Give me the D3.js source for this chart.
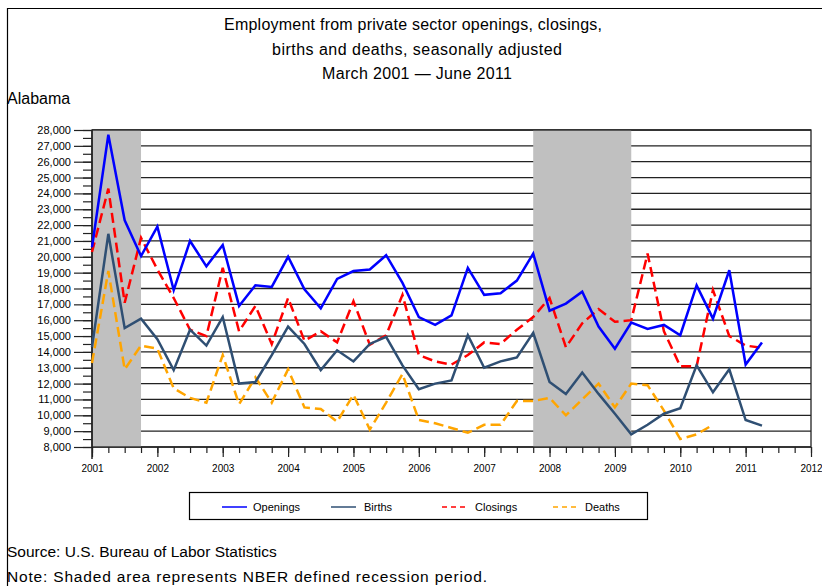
<!DOCTYPE html>
<html><head><meta charset="utf-8">
<script src="https://cdn.jsdelivr.net/npm/d3@7/dist/d3.min.js"></script>
<style>
body{margin:0;background:#fff;}
svg{display:block;font-family:"Liberation Sans",Arial,sans-serif;}
</style>
</head><body>
<svg id="c" width="822" height="586"></svg>
<script>
// ---- data ----
const periods = ["2001Q1","2001Q2","2001Q3","2001Q4","2002Q1","2002Q2","2002Q3","2002Q4",
"2003Q1","2003Q2","2003Q3","2003Q4","2004Q1","2004Q2","2004Q3","2004Q4",
"2005Q1","2005Q2","2005Q3","2005Q4","2006Q1","2006Q2","2006Q3","2006Q4",
"2007Q1","2007Q2","2007Q3","2007Q4","2008Q1","2008Q2","2008Q3","2008Q4",
"2009Q1","2009Q2","2009Q3","2009Q4","2010Q1","2010Q2","2010Q3","2010Q4",
"2011Q1","2011Q2"];
const openings = [20600,27700,22300,20050,21900,17900,21000,19400,20750,16900,18200,18100,
20000,17950,16750,18600,19100,19200,20100,18350,16200,15700,16300,19300,
17600,17700,18500,20200,16600,17050,17800,15600,14200,15850,15450,15700,
15050,18200,16100,19150,13200,14600];
const births = [14300,21450,15500,16100,14800,12850,15400,14400,16200,12000,12100,13800,
15600,14500,12850,14100,13400,14500,14950,13150,11650,12000,12200,15050,
13000,13400,13650,15200,12100,11350,12700,11350,10100,8800,9400,10100,
10450,13150,11450,12900,9700,9350];
const closings = [20300,24300,17100,21200,19200,17400,15400,15000,19300,15300,16900,14500,
17400,14700,15300,14600,17200,14450,15050,17600,13800,13400,13200,13800,
14600,14500,15400,16200,17400,14300,15800,16700,15900,16000,20200,15300,
13100,13100,17900,15000,14400,14250];
const deaths = [13300,19100,12900,14400,14200,11700,11100,10800,13800,10700,12400,10800,
12900,10500,10400,9600,11300,9100,10800,12600,9700,9500,9200,8900,
9400,9400,10900,10900,11100,10000,11000,12000,10500,12000,11900,10300,
8500,8800,9400];
const yearLabels = ["2001","2002","2003","2004","2005","2006","2007","2008","2009","2010","2011","2012"];
const yTickValues = [8000,9000,10000,11000,12000,13000,14000,15000,16000,17000,18000,
19000,20000,21000,22000,23000,24000,25000,26000,27000,28000];
const recessions = [["2001Q1","2001Q4"],["2007Q4","2009Q2"]];
const seriesNames = ["Openings","Births","Closings","Deaths"];

// ---- layout ----
const svg = d3.select("#c");
const L = 92, R = 811, T = 130, B = 447;
const periodTime = p => +p.slice(0,4) + (+p.slice(5) - 1) / 4;
const x = d3.scaleLinear().domain([+yearLabels[0], +yearLabels[yearLabels.length-1]]).range([L, R]);
const y = d3.scaleLinear().domain([yTickValues[0], yTickValues[yTickValues.length-1]]).range([B, T]);

// outer frame (top + left)
svg.append("path").attr("d","M7.5,600 V8.5 H830").attr("fill","none").attr("stroke","#000").attr("stroke-width",1.2);

// titles
const titles = ["Employment from private sector openings, closings,","births and deaths, seasonally adjusted","March 2001 \u2014 June 2011"];
const titleLen = [378, 290, 190];
svg.selectAll("text.title").data(titles).join("text")
  .attr("x",(d,i)=>i===0?413:417).attr("y",(d,i)=>30+i*24.5).attr("text-anchor","middle")
  .attr("textLength",(d,i)=>titleLen[i]).attr("lengthAdjust","spacing")
  .attr("font-size",16).attr("fill","#000").text(d=>d);
svg.append("text").attr("x",7).attr("y",104).attr("font-size",16).text("Alabama");

// gridlines
svg.append("g").selectAll("line").data(yTickValues).join("line")
  .attr("x1",L).attr("x2",R).attr("y1",d=>y(d)).attr("y2",d=>y(d))
  .attr("stroke","#222").attr("stroke-width",1.3);

// recession shading
svg.append("g").selectAll("rect").data(recessions).join("rect")
  .attr("x",d=>x(periodTime(d[0]))).attr("width",d=>x(periodTime(d[1]))-x(periodTime(d[0])))
  .attr("y",T).attr("height",B-T).attr("fill","#c0c0c0");

// y axis
const yMinor = d3.range(yTickValues[0], yTickValues[yTickValues.length-1]+1, 500);
const gym = svg.append("g").attr("transform",`translate(${L},0)`)
  .call(d3.axisLeft(y).tickValues(yMinor).tickSize(9).tickFormat(""));
gym.select(".domain").remove();
gym.selectAll("line").attr("stroke","#222").attr("stroke-width",1.2);
const gy = svg.append("g").attr("transform",`translate(${L},0)`)
  .call(d3.axisLeft(y).tickValues(yTickValues).tickSize(18).tickPadding(3).tickFormat(d3.format(",")));
gy.select(".domain").remove();
gy.selectAll("line").attr("stroke","#222").attr("stroke-width",1.2);
gy.selectAll("text").attr("font-size",11).attr("font-family","Liberation Sans, Arial, sans-serif").attr("fill","#000");

// x axis
const xMinor = d3.range(+yearLabels[0], +yearLabels[yearLabels.length-1]+0.01, 0.25);
const gxm = svg.append("g").attr("transform",`translate(0,${B})`)
  .call(d3.axisBottom(x).tickValues(xMinor).tickSize(6).tickFormat(""));
gxm.select(".domain").remove();
gxm.selectAll("line").attr("stroke","#222").attr("stroke-width",1.2);
const gx = svg.append("g").attr("transform",`translate(0,${B})`)
  .call(d3.axisBottom(x).tickValues(yearLabels.map(Number)).tickSize(10).tickPadding(8).tickFormat(d3.format("d")));
gx.select(".domain").remove();
gx.selectAll("line").attr("stroke","#222").attr("stroke-width",1.2);
gx.selectAll("text").attr("font-size",10).attr("font-family","Liberation Sans, Arial, sans-serif").attr("fill","#000");

// plot frame
svg.append("rect").attr("x",L).attr("y",T).attr("width",R-L).attr("height",B-T)
  .attr("fill","none").attr("stroke","#222").attr("stroke-width",1.3);
svg.append("line").attr("x1",L).attr("x2",L).attr("y1",T).attr("y2",B+12).attr("stroke","#222").attr("stroke-width",1.5);

// series
const styles = {
  Openings:{color:"#0000ff",dash:null,data:openings},
  Births:{color:"#2f4f73",dash:null,data:births},
  Closings:{color:"#ff0000",dash:"10,5",data:closings},
  Deaths:{color:"#ffa500",dash:"10,5",data:deaths}
};
const lineGen = d3.line().x((d,i)=>x(periodTime(periods[i]))).y(d=>y(d));
["Deaths","Closings","Births","Openings"].forEach(name=>{
  const s = styles[name];
  svg.append("path").datum(s.data).attr("d",lineGen)
    .attr("fill","none").attr("stroke",s.color).attr("stroke-width",2.5)
    .attr("stroke-dasharray",s.dash).attr("stroke-linejoin","miter");
});

// legend
svg.append("rect").attr("x",189.5).attr("y",492.5).attr("width",458).attr("height",27)
  .attr("fill","#fff").attr("stroke","#000").attr("stroke-width",1.2);
const legX = [222,331,442,553];
const lg = svg.append("g").selectAll("g").data(seriesNames).join("g")
  .attr("transform",(d,i)=>`translate(${legX[i]},507)`);
lg.append("line").attr("x1",0).attr("x2",25).attr("y1",0).attr("y2",0)
  .attr("stroke",d=>styles[d].color).attr("stroke-width",1.5)
  .attr("stroke-dasharray",d=>styles[d].dash?"5,4":null);
lg.append("text").attr("x",(d,i)=>i===0?31:(i===1?33:(i===2?33:32))).attr("y",4).attr("font-size",11).text(d=>d);

// notes
svg.append("text").attr("x",7).attr("y",557).attr("font-size",15.5).text("Source: U.S. Bureau of Labor Statistics");
svg.append("text").attr("x",7).attr("y",582).attr("font-size",15.5)
  .attr("textLength",480).attr("lengthAdjust","spacing")
  .text("Note: Shaded area represents NBER defined recession period.");
</script>
</body></html>
